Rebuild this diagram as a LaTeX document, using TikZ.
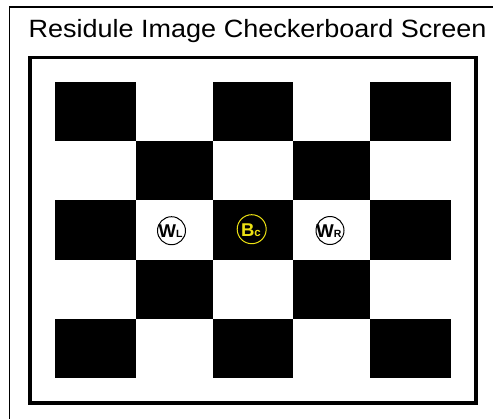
\documentclass[tikz,border=0pt]{standalone}
\usepackage{fontspec}
\setmainfont{Liberation Sans}
\begin{document}
\begin{tikzpicture}[x=1pt,y=-1pt,
  marker/.style={circle,draw=black,line width=1pt,minimum size=28pt,inner sep=0pt,fill=white},
  lbl/.style={font=\fontsize{18.5}{19}\selectfont\bfseries}]
\useasboundingbox (0,0) rectangle (493,418);
% outer box (clipped by the page)
\draw[line width=1.8pt] (9.5,7) rectangle (500,430);
% title
\node[anchor=base west,font=\fontsize{25}{28}\selectfont,inner sep=0pt,xscale=1.08] (title) at (28.5,37.7) {Residule Image Checkerboard Screen};
% frame
\draw[line width=3.8pt] (30,57.5) rectangle (475.8,403.2);
% checkerboard
\def\cx{{55,136,213,293,370,451}}
\def\ry{{82,141.2,200.4,259.6,318.8,378}}
\foreach \i in {0,...,4}{
  \foreach \j in {0,...,4}{
    \pgfmathtruncatemacro{\parity}{mod(\i+\j,2)}
    \ifnum\parity=0
      \pgfmathsetmacro{\xa}{\cx[\i]}\pgfmathsetmacro{\xb}{\cx[\i+1]}
      \pgfmathsetmacro{\ya}{\ry[\j]}\pgfmathsetmacro{\yb}{\ry[\j+1]}
      \fill[black] (\xa,\ya) rectangle (\xb,\yb);
    \fi
  }
}
% markers
\node[marker] (wl) at (171.5,230.7) {};
\node[lbl,anchor=base] at (170.5,237.5) {W\fontsize{10.5}{11}\selectfont L};
\node[marker,draw=yellow!92!black,fill=black,minimum size=29pt] (bc) at (251.7,229.2) {};
\node[lbl,anchor=base,text=yellow!92!black] at (251,236) {B\fontsize{11.5}{12}\selectfont c};
\node[marker] (wr) at (330,230.5) {};
\node[lbl,anchor=base] at (329,237.5) {W\fontsize{10.5}{11}\selectfont R};
\end{tikzpicture}
\end{document}
